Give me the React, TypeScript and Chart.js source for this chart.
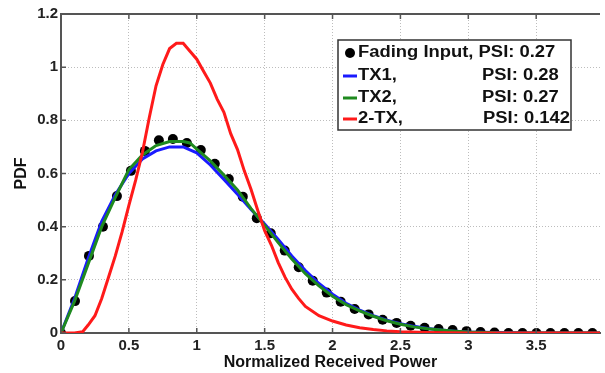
import React, { useEffect, useRef } from "react";
import { Chart, registerables } from "chart.js";

Chart.register(...registerables);

// Fading input samples (dots)
const fadingX = [0, 0.103, 0.206, 0.309, 0.412, 0.515, 0.618, 0.721, 0.824, 0.927, 1.03, 1.133, 1.236, 1.339, 1.442, 1.545, 1.648, 1.751, 1.854, 1.957, 2.06, 2.163, 2.266, 2.369, 2.472, 2.575, 2.678, 2.781, 2.884, 2.987, 3.09, 3.193, 3.296, 3.399, 3.502, 3.605, 3.708, 3.811, 3.914];
const fadingY = [0, 0.12, 0.29, 0.4, 0.515, 0.61, 0.685, 0.725, 0.73, 0.715, 0.688, 0.637, 0.579, 0.513, 0.432, 0.375, 0.31, 0.247, 0.197, 0.152, 0.118, 0.09, 0.07, 0.05, 0.038, 0.027, 0.02, 0.015, 0.011, 0.007, 0.004, 0.002, 0, 0, 0, 0, 0, 0, 0];

// TX1 (blue)
const tx1X = [0, 0.1, 0.2, 0.3, 0.4, 0.5, 0.6, 0.7, 0.8, 0.9, 1.0, 1.1, 1.2, 1.3, 1.4, 1.5, 1.6, 1.7, 1.8, 1.9, 2.0, 2.1, 2.2, 2.3, 2.4, 2.5, 2.6, 2.7, 2.8, 2.9, 3.0, 3.2, 3.5, 3.97];
const tx1Y = [0, 0.13, 0.28, 0.42, 0.52, 0.6, 0.655, 0.685, 0.7, 0.7, 0.678, 0.632, 0.578, 0.522, 0.465, 0.41, 0.352, 0.29, 0.235, 0.186, 0.146, 0.112, 0.086, 0.065, 0.048, 0.035, 0.025, 0.017, 0.011, 0.007, 0.004, 0.002, 0, 0];

// TX2 (green)
const tx2X = [0, 0.1, 0.2, 0.3, 0.4, 0.5, 0.6, 0.7, 0.8, 0.9, 0.95, 1.0, 1.1, 1.2, 1.3, 1.4, 1.5, 1.6, 1.7, 1.8, 1.9, 2.0, 2.1, 2.2, 2.3, 2.4, 2.5, 2.6, 2.7, 2.8, 2.9, 3.0, 3.2, 3.5, 3.97];
const tx2Y = [0, 0.12, 0.26, 0.4, 0.51, 0.615, 0.67, 0.705, 0.72, 0.72, 0.715, 0.692, 0.648, 0.594, 0.538, 0.468, 0.405, 0.34, 0.278, 0.223, 0.177, 0.138, 0.107, 0.083, 0.063, 0.046, 0.033, 0.023, 0.016, 0.011, 0.007, 0.004, 0.001, 0, 0];

// 2-TX (red)
const twoTxX = [0, 0.1, 0.16, 0.2, 0.25, 0.3, 0.35, 0.4, 0.45, 0.5, 0.55, 0.6, 0.65, 0.7, 0.75, 0.8, 0.85, 0.9, 0.95, 1.0, 1.05, 1.1, 1.15, 1.2, 1.25, 1.3, 1.35, 1.4, 1.45, 1.5, 1.55, 1.6, 1.65, 1.7, 1.75, 1.8, 1.9, 2.0, 2.1, 2.2, 2.3, 2.4, 2.5, 2.7, 3.0, 3.97];
const twoTxY = [0, 0, 0.005, 0.03, 0.065, 0.13, 0.21, 0.29, 0.38, 0.48, 0.575, 0.68, 0.81, 0.93, 1.01, 1.07, 1.09, 1.09, 1.06, 1.03, 0.985, 0.94, 0.88, 0.83, 0.75, 0.69, 0.61, 0.54, 0.46, 0.385, 0.33, 0.265, 0.21, 0.165, 0.13, 0.1, 0.065, 0.045, 0.03, 0.02, 0.013, 0.008, 0.005, 0.002, 0, 0];

const legendNames = ["Fading Input,", "TX1,", "TX2,", "2-TX,"];
const legendPsi = ["PSI: 0.27", "PSI: 0.28", "PSI: 0.27", "PSI: 0.142"];
const seriesColors = ["#000000", "#1a1aff", "#1f8a1f", "#ff1a1a"];

const xTitle = "Normalized Received Power";
const yTitle = "PDF";

const FONT = "'Liberation Sans', Arial, sans-serif";

const toPts = (xs: number[], ys: number[]) => xs.map((x, i) => ({ x, y: ys[i] }));
const fmt = (v: any) => String(Math.round(Number(v) * 10) / 10);

const framePlugin = {
  id: "frame",
  afterDatasetsDraw(chart: any) {
    const { ctx, chartArea } = chart;
    const { left, top, right, bottom } = chartArea;
    ctx.save();
    ctx.strokeStyle = "#555";
    ctx.lineWidth = 2;
    ctx.beginPath();
    ctx.moveTo(left - 1, top);
    ctx.lineTo(right, top);
    ctx.stroke();
    ctx.lineWidth = 1.5;
    const xs = chart.scales.x;
    const ys = chart.scales.y;
    ctx.beginPath();
    xs.ticks.forEach((t: any) => {
      const px = xs.getPixelForValue(t.value);
      ctx.moveTo(px, bottom);
      ctx.lineTo(px, bottom - 5);
      ctx.moveTo(px, top);
      ctx.lineTo(px, top + 5);
    });
    ys.ticks.forEach((t: any) => {
      const py = ys.getPixelForValue(t.value);
      ctx.moveTo(left, py);
      ctx.lineTo(left + 5, py);
    });
    ctx.stroke();
    ctx.restore();
  },
};

const legendPlugin = {
  id: "customLegend",
  afterDraw(chart: any) {
    const { ctx } = chart;
    const bx = 338, by = 40, bw = 233, bh = 90;
    ctx.save();
    ctx.fillStyle = "#fff";
    ctx.fillRect(bx, by, bw, bh);
    ctx.strokeStyle = "#333";
    ctx.lineWidth = 1.5;
    ctx.strokeRect(bx, by, bw, bh);
    ctx.textBaseline = "middle";
    const rowsY = [53, 76, 98, 119];
    const stretch = 1.15;
    const text = (s: string, x: number, y: number) => {
      ctx.save();
      ctx.translate(x, y);
      ctx.scale(stretch, 1);
      ctx.font = `bold 16px ${FONT}`;
      ctx.fillStyle = "#111";
      ctx.fillText(s, 0, 0);
      ctx.restore();
    };
    legendNames.forEach((name, i) => {
      const y = rowsY[i];
      if (i === 0) {
        ctx.fillStyle = "#000";
        ctx.beginPath();
        ctx.arc(350, y, 5, 0, Math.PI * 2);
        ctx.fill();
        text(name + " " + legendPsi[i], 358, y);
      } else {
        ctx.strokeStyle = seriesColors[i];
        ctx.lineWidth = 3;
        ctx.beginPath();
        ctx.moveTo(343, y);
        ctx.lineTo(357, y);
        ctx.stroke();
        text(name, 358, y);
        text(legendPsi[i], i === 3 ? 483 : 482, y);
      }
    });
    ctx.restore();
  },
};

export default function App() {
  const ref = useRef<HTMLCanvasElement>(null);
  useEffect(() => {
    if (!ref.current) return;
    const chart = new Chart(ref.current, {
      type: "scatter",
      data: {
        datasets: [
          {
            label: "Fading Input",
            data: toPts(fadingX, fadingY),
            showLine: false,
            pointRadius: 5,
            pointBackgroundColor: "#000",
            pointBorderColor: "#000",
            pointBorderWidth: 0,
            order: 4,
          },
          {
            label: "TX1",
            data: toPts(tx1X, tx1Y),
            showLine: true,
            borderColor: seriesColors[1],
            borderWidth: 3,
            pointRadius: 0,
            tension: 0,
            order: 3,
          },
          {
            label: "TX2",
            data: toPts(tx2X, tx2Y),
            showLine: true,
            borderColor: seriesColors[2],
            borderWidth: 3,
            pointRadius: 0,
            tension: 0,
            order: 2,
          },
          {
            label: "2-TX",
            data: toPts(twoTxX, twoTxY),
            showLine: true,
            borderColor: seriesColors[3],
            borderWidth: 3,
            pointRadius: 0,
            tension: 0,
            order: 1,
          },
        ],
      },
      options: {
        responsive: false,
        animation: false,
        layout: { padding: { top: 14, right: 0, left: 0, bottom: 0 } },
        plugins: { legend: { display: false }, tooltip: { enabled: false } },
        scales: {
          x: {
            type: "linear",
            min: 0,
            max: 3.97,
            afterFit: (s: any) => { s.height = 40; },
            ticks: {
              stepSize: 0.5,
              includeBounds: false,
              color: "#222",
              padding: 4,
              maxRotation: 0,
              callback: fmt,
              font: { family: FONT, size: 15, weight: "bold" },
            },
            grid: { color: "#bdbdbd", drawTicks: false, lineWidth: 1 },
            border: { color: "#555", width: 2, dash: [1, 2] },
            title: {
              display: true,
              text: xTitle,
              color: "#111",
              font: { family: FONT, size: 16, weight: "bold" },
              padding: { top: 0, bottom: 1 },
            },
          },
          y: {
            type: "linear",
            min: 0,
            max: 1.2,
            afterFit: (s: any) => { s.width = 61; },
            ticks: {
              stepSize: 0.2,
              color: "#222",
              padding: 3,
              callback: fmt,
              font: { family: FONT, size: 15, weight: "bold" },
            },
            grid: { color: "#bdbdbd", drawTicks: false, lineWidth: 1 },
            border: { color: "#555", width: 2, dash: [1, 2] },
            title: {
              display: true,
              text: yTitle,
              color: "#111",
              font: { family: FONT, size: 16, weight: "bold" },
              padding: { top: 12, bottom: 0 },
            },
          },
        },
      },
      plugins: [framePlugin, legendPlugin],
    });
    return () => chart.destroy();
  }, []);

  return (
    <div style={{ position: "fixed", left: 0, top: 0, width: 605, height: 373, background: "#fff" }}>
      <canvas ref={ref} width={605} height={373} style={{ width: 605, height: 373 }} />
    </div>
  );
}
